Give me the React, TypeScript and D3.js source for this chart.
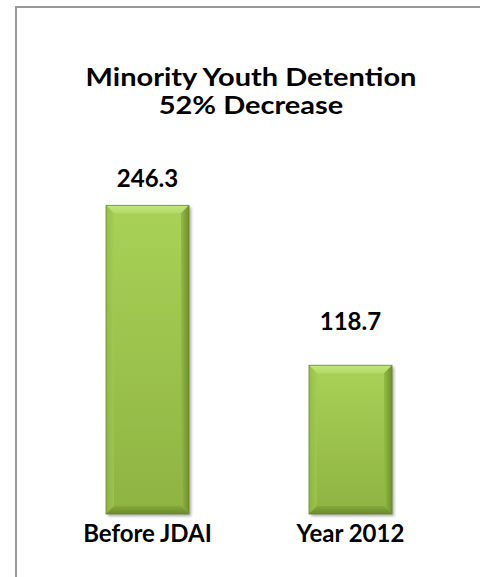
import React from "react";
import * as d3 from "d3";

const categories = ["Before JDAI", "Year 2012"];
const values = [246.3, 118.7];
const titleLines = ["Minority Youth Detention", "52% Decrease"];

const W = 480;
const H = 577;

export default function App() {
  const x = d3.scaleBand<string>().domain(categories).range([106, 392]).paddingInner(0.591).paddingOuter(0);
  const y = d3.scaleLinear().domain([0, 300]).range([514, 138]);
  const bw = x.bandwidth();
  const bev = 8;
  const font = "Lato, 'Open Sans', sans-serif";

  return (
    <div style={{ position: "absolute", left: 0, top: 0 }}>
      <svg width={W} height={H} style={{ display: "block" }}>
        <defs>
          <linearGradient id="face" x1="0" y1="0" x2="0" y2="1">
            <stop offset="0" stopColor="#a8d257" />
            <stop offset="1" stopColor="#8fb342" />
          </linearGradient>
          <linearGradient id="topB" x1="0" y1="0" x2="0" y2="1">
            <stop offset="0" stopColor="#c3e67c" />
            <stop offset="1" stopColor="#b2da66" />
          </linearGradient>
          <linearGradient id="leftB" x1="0" y1="0" x2="1" y2="0">
            <stop offset="0" stopColor="#8cb440" />
            <stop offset="1" stopColor="#a2cc52" />
          </linearGradient>
          <linearGradient id="rightB" x1="0" y1="0" x2="1" y2="0">
            <stop offset="0" stopColor="#93bb45" />
            <stop offset="1" stopColor="#6f8f2c" />
          </linearGradient>
          <linearGradient id="botB" x1="0" y1="0" x2="0" y2="1">
            <stop offset="0" stopColor="#86a83a" />
            <stop offset="1" stopColor="#6b8a2b" />
          </linearGradient>
          <filter id="shadow" x="-20%" y="-20%" width="140%" height="140%">
            <feDropShadow dx="2" dy="2" stdDeviation="1.5" floodColor="#000" floodOpacity="0.35" />
          </filter>
        </defs>
        <rect x={0} y={0} width={W} height={H} fill="#fff" />
        <line x1={16} y1={7} x2={W} y2={7} stroke="#999" strokeWidth={2} />
        <line x1={16} y1={6} x2={16} y2={H} stroke="#999" strokeWidth={2} />

        <g transform="translate(251,0) scale(1.16,1)">
          {titleLines.map((t, i) => (
            <text key={t} x={0} y={86 + i * 28} textAnchor="middle" fontFamily={font} fontWeight="bold" fontSize={25} fill="#000">
              {t}
            </text>
          ))}
        </g>

        {categories.map((c, i) => {
          const x0 = x(c)!;
          const x1 = x0 + bw;
          const yt = y(values[i]);
          const yb = y(0);
          const labelY = Math.max(yt - 35, 187);
          return (
            <g key={c}>
              <g filter="url(#shadow)">
                <rect x={x0} y={yt} width={bw} height={yb - yt} fill="url(#face)" />
              </g>
              <polygon points={`${x0},${yt} ${x1},${yt} ${x1 - bev},${yt + bev} ${x0 + bev},${yt + bev}`} fill="url(#topB)" />
              <polygon points={`${x0},${yt} ${x0 + bev},${yt + bev} ${x0 + bev},${yb - bev} ${x0},${yb}`} fill="url(#leftB)" opacity={0.6} />
              <polygon points={`${x1},${yt} ${x1 - bev},${yt + bev} ${x1 - bev},${yb - bev} ${x1},${yb}`} fill="url(#rightB)" />
              <polygon points={`${x0},${yb} ${x0 + bev},${yb - bev} ${x1 - bev},${yb - bev} ${x1},${yb}`} fill="url(#botB)" />
              <rect x={x0} y={yt} width={bw} height={yb - yt} fill="none" stroke="#6d8b2a" strokeWidth={0.8} />
              <text x={x0 + bw / 2} y={labelY} textAnchor="middle" fontFamily={font} fontWeight="bold" fontSize={24} fill="#000">
                {values[i].toFixed(1)}
              </text>
              <text x={x0 + bw / 2} y={542} textAnchor="middle" fontFamily={font} fontWeight="bold" fontSize={24} fill="#000">
                {c}
              </text>
            </g>
          );
        })}
      </svg>
    </div>
  );
}
